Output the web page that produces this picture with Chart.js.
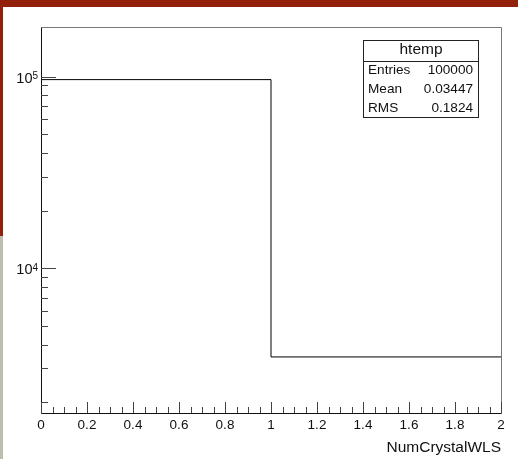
<!DOCTYPE html>
<html lang="en">
<head>
    <meta charset="UTF-8">
    <title>htemp - NumCrystalWLS</title>
    <script src="https://cdn.jsdelivr.net/npm/chart.js"></script>
    <style>
        body { margin: 0; background: #fff; }
        canvas { display: block; }
    </style>
</head>
<body>
    <canvas id="chartHtemp" width="518" height="459"></canvas>

    <script>
        // histogram htemp: two bins on NumCrystalWLS
        const binEdges = [0, 1, 2];
        const binContents = [96553, 3447];

        const xTickLabels = ['0', '0.2', '0.4', '0.6', '0.8', '1', '1.2', '1.4', '1.6', '1.8', '2'];
        const yTickValues = [1e4, 1e5];
        const yTickBase = '10';
        const yTickExponents = ['4', '5'];

        const statsTitle = 'htemp';
        const statsLabels = ['Entries', 'Mean', 'RMS'];
        const statsValues = ['100000', '0.03447', '0.1824'];

        const FONT = "'Liberation Sans', Arial, sans-serif";
        Chart.defaults.font.family = FONT;

        // points for the stepped outline (last edge keeps the last bin content)
        const histPoints = binEdges.map((e, i) => ({ x: e, y: binContents[Math.min(i, binContents.length - 1)] }));

        // ROOT style pad: coloured border, frame, inward ticks, exponents, stats box
        const rootPad = {
            id: 'rootPad',
            beforeDraw(chart) {
                const c = chart.ctx, w = chart.width, h = chart.height;
                c.save();
                c.fillStyle = '#fff';
                c.fillRect(0, 0, w, h);
                c.fillStyle = '#93200b';
                c.fillRect(0, 0, w, 7);
                c.fillRect(0, 0, 3, 236);
                c.fillStyle = '#bdbead';
                c.fillRect(0, 236, 3, h - 236);
                c.restore();
            },
            afterDraw(chart) {
                const c = chart.ctx, a = chart.chartArea;
                const x = chart.scales.x, y = chart.scales.y;
                c.save();
                c.lineWidth = 1;

                // frame
                c.strokeStyle = '#777';
                c.beginPath();
                c.moveTo(a.left + 0.5, a.top + 0.5);
                c.lineTo(a.right + 0.5, a.top + 0.5);
                c.lineTo(a.right + 0.5, a.bottom + 0.5);
                c.stroke();
                c.strokeStyle = '#111';
                c.beginPath();
                c.moveTo(a.left + 0.5, a.top + 0.5);
                c.lineTo(a.left + 0.5, a.bottom + 0.5);
                c.lineTo(a.right + 0.5, a.bottom + 0.5);
                c.stroke();

                // x ticks (inside)
                c.strokeStyle = '#444';
                c.beginPath();
                for (let i = 0; i <= 40; i++) {
                    const px = Math.round(x.getPixelForValue(i * 0.05)) + 0.5;
                    const len = i % 4 === 0 ? 11 : 6;
                    c.moveTo(px, a.bottom);
                    c.lineTo(px, a.bottom - len);
                }
                c.stroke();

                // y ticks (inside), log decades
                c.beginPath();
                for (let d = 3; d <= 5; d++) {
                    for (let k = 1; k <= 9; k++) {
                        const v = k * Math.pow(10, d);
                        if (v < y.min || v > y.max) continue;
                        const py = Math.round(y.getPixelForValue(v)) + 0.5;
                        const len = k === 1 ? 15 : 7;
                        c.moveTo(a.left, py);
                        c.lineTo(a.left + len, py);
                    }
                }
                c.stroke();

                // exponents of the y labels
                c.fillStyle = '#111';
                c.font = '10px ' + FONT;
                c.textAlign = 'left';
                c.textBaseline = 'top';
                yTickValues.forEach((v, i) => {
                    c.fillText(yTickExponents[i], 32.5, y.getPixelForValue(v) - 5);
                });

                // stats box
                const bx = 363.5, by = 40.5, bw = 115, bh = 77;
                c.fillStyle = '#fff';
                c.fillRect(bx, by, bw, bh);
                c.strokeStyle = '#222';
                c.strokeRect(bx, by, bw, bh);
                c.beginPath();
                c.moveTo(bx, 61.5);
                c.lineTo(bx + bw, 61.5);
                c.stroke();

                c.fillStyle = '#111';
                c.textBaseline = 'middle';
                c.font = '15.5px ' + FONT;
                c.textAlign = 'center';
                c.fillText(statsTitle, bx + bw / 2, 50);
                c.font = '13.6px ' + FONT;
                statsLabels.forEach((lab, i) => {
                    const ty = 70 + i * 19;
                    c.textAlign = 'left';
                    c.fillText(lab, 368, ty);
                    c.textAlign = 'right';
                    c.fillText(statsValues[i], 473, ty);
                });
                c.restore();
            }
        };

        new Chart(document.getElementById('chartHtemp'), {
            type: 'line',
            data: {
                datasets: [{
                    label: statsTitle,
                    data: histPoints,
                    stepped: 'before',
                    borderColor: '#000',
                    borderWidth: 1,
                    pointRadius: 0,
                    fill: false
                }]
            },
            options: {
                responsive: false,
                animation: false,
                devicePixelRatio: 1,
                layout: { padding: { left: 0, top: 27, right: 17, bottom: 0 } },
                plugins: {
                    legend: { display: false },
                    tooltip: { enabled: false }
                },
                scales: {
                    x: {
                        type: 'linear',
                        min: 0,
                        max: 2,
                        grid: { display: false, drawTicks: false },
                        border: { display: false },
                        ticks: {
                            stepSize: 0.2,
                            autoSkip: false,
                            maxRotation: 0,
                            padding: 4,
                            color: '#111',
                            font: { size: 13.5 },
                            callback: (v, i) => xTickLabels[i]
                        },
                        title: {
                            display: true,
                            text: 'NumCrystalWLS',
                            align: 'end',
                            color: '#111',
                            font: { size: 15.5 },
                            padding: { top: 0, bottom: 2 }
                        },
                        afterFit: s => { s.height = 46; }
                    },
                    y: {
                        type: 'logarithmic',
                        min: 1757,
                        max: 181700,
                        grid: { display: false, drawTicks: false },
                        border: { display: false },
                        afterBuildTicks: s => { s.ticks = yTickValues.map(v => ({ value: v })); },
                        ticks: {
                            autoSkip: false,
                            padding: 8.5,
                            labelOffset: 2,
                            color: '#111',
                            font: { size: 14.5 },
                            callback: v => yTickBase
                        },
                        afterFit: s => { s.width = 41; }
                    }
                }
            },
            plugins: [rootPad]
        });
    </script>
</body>
</html>
